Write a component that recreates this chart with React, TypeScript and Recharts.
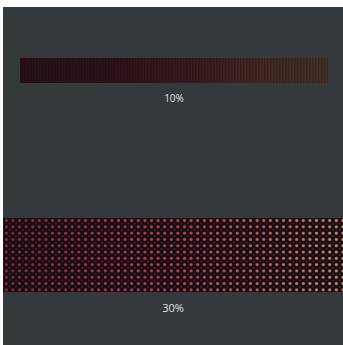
import React from 'react';
import { BarChart, Bar, XAxis, YAxis, LabelList } from 'recharts';

// rows of the halftone sample sheet
const ROW_LABELS = ['10%', '30%'];
const ROW_START = [5, 0];
const ROW_END = [95.6, 100];

const BG = '#34393b';

const rows = ROW_LABELS.map((label, i) => ({
  label,
  range: [ROW_START[i], ROW_END[i]],
}));

function FineBar(props: any) {
  const { x, y, width, height } = props;
  return (
    <g>
      <rect x={x} y={y} width={width} height={height} fill="url(#g1)" />
      <rect x={x} y={y} width={width} height={height} fill="url(#p1)" opacity={0.2} />
    </g>
  );
}

function DotBar(props: any) {
  const { x, y, width, height } = props;
  return (
    <g>
      <rect x={x} y={y} width={width} height={height} fill="#170c10" />
      <rect x={x} y={y} width={width} height={height} fill="url(#p2b)" />
      <rect x={x} y={y} width={width} height={height} fill="url(#g2)" mask="url(#m2)" />
    </g>
  );
}

const labelStyle = { fill: '#e2e2e2', fontFamily: 'Open Sans, sans-serif' };

export default function App() {
  return (
    <div style={{ width: 343, height: 345, background: '#fff', position: 'relative', overflow: 'hidden' }}>
      <style>{'body{margin:0}'}</style>
      <div style={{ position: 'absolute', left: 3, top: 7, width: 340, height: 338, background: BG }} />
      <div style={{ position: 'absolute', left: 3, top: 7 }}>
        <BarChart width={340} height={160} data={[rows[0]]} layout="vertical"
          margin={{ top: 0, right: 0, bottom: 33, left: 0 }} barCategoryGap={0}>
          <defs>
            <linearGradient id="g1" x1="0" y1="0" x2="1" y2="0">
              <stop offset="0%" stopColor="#29111a" />
              <stop offset="30%" stopColor="#2e131a" />
              <stop offset="55%" stopColor="#381b1e" />
              <stop offset="78%" stopColor="#432923" />
              <stop offset="100%" stopColor="#453027" />
            </linearGradient>
            <pattern id="p1" patternUnits="userSpaceOnUse" width={3} height={3}>
              <rect x={0} y={0} width={1.5} height={3} fill="#000" />
            </pattern>
          </defs>
          <XAxis type="number" domain={[0, 100]} hide />
          <YAxis type="category" dataKey="label" hide />
          <Bar dataKey="range" barSize={25} shape={FineBar} isAnimationActive={false}>
            <LabelList dataKey="label" position="bottom" offset={12}
              style={{ ...labelStyle, fontSize: 10 }} />
          </Bar>
        </BarChart>
      </div>
      <div style={{ position: 'absolute', left: 3, top: 167 }}>
        <BarChart width={340} height={178} data={[rows[1]]} layout="vertical"
          margin={{ top: 0, right: 0, bottom: 2, left: 0 }} barCategoryGap={0}>
          <defs>
            <linearGradient id="g2" x1="0" y1="0" x2="340" y2="0" gradientUnits="userSpaceOnUse">
              <stop offset="0%" stopColor="#8e2242" />
              <stop offset="35%" stopColor="#bb3450" />
              <stop offset="60%" stopColor="#c8465a" />
              <stop offset="80%" stopColor="#cc6466" />
              <stop offset="100%" stopColor="#d28676" />
            </linearGradient>
            <pattern id="p2" patternUnits="userSpaceOnUse" width={6.6} height={6.3}>
              <circle cx={3.3} cy={3.15} r={1.6} fill="#fff" />
            </pattern>
            <pattern id="p2b" patternUnits="userSpaceOnUse" width={6.6} height={6.3}>
              <circle cx={0} cy={0} r={1} fill="#2c3a32" />
              <circle cx={6.6} cy={0} r={1} fill="#2c3a32" />
              <circle cx={0} cy={6.3} r={1} fill="#2c3a32" />
              <circle cx={6.6} cy={6.3} r={1} fill="#2c3a32" />
            </pattern>
            <mask id="m2" maskUnits="userSpaceOnUse" x={0} y={0} width={340} height={178}>
              <rect x={0} y={0} width={340} height={178} fill="url(#p2)" />
            </mask>
          </defs>
          <XAxis type="number" domain={[0, 100]} hide />
          <YAxis type="category" dataKey="label" hide />
          <Bar dataKey="range" barSize={74} shape={DotBar} isAnimationActive={false}>
            <LabelList dataKey="label" position="bottom" offset={12}
              style={{ ...labelStyle, fontSize: 11 }} />
          </Bar>
        </BarChart>
      </div>
    </div>
  );
}
